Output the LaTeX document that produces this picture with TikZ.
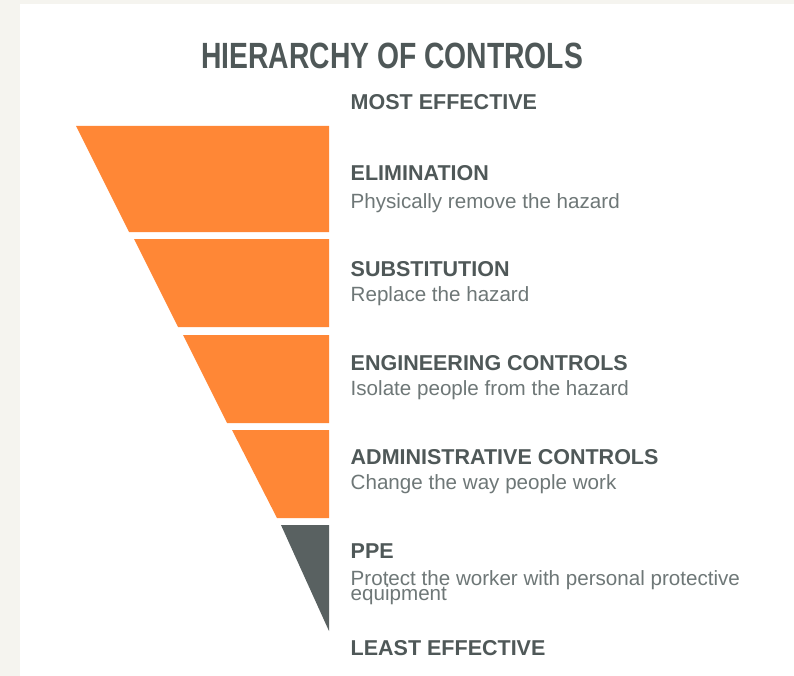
\documentclass[tikz,border=0pt]{standalone}
\usepackage{fontspec}
\setmainfont{Liberation Sans}
\newfontfamily\titlefont[FakeStretch=0.775]{Liberation Sans}
\definecolor{bgcol}{HTML}{F5F4EF}
\definecolor{orangecol}{HTML}{FF8736}
\definecolor{darkcol}{HTML}{596161}
\definecolor{headcol}{HTML}{4F5858}
\definecolor{desccol}{HTML}{6E7777}
\begin{document}
\begin{tikzpicture}[x=1pt,y=-1pt,
  titletext/.style={anchor=base west,inner sep=0pt,text=headcol,font=\titlefont\bfseries\fontsize{36.5}{40}\selectfont},
  headtext/.style={anchor=base west,inner sep=0pt,text=headcol,font=\bfseries\fontsize{21.5}{24}\selectfont},
  desctext/.style={anchor=base west,inner sep=0pt,text=desccol,font=\fontsize{20.6}{24}\selectfont},
  band/.style={fill=orangecol},
  ppeband/.style={fill=darkcol}]
\useasboundingbox (0,0) rectangle (794,676);
\fill[bgcol] (0,0) rectangle (794,676);
\fill[white] (20,4) rectangle (794,676);
% funnel
\fill[band] (76,126) -- (329,126) -- (329,232) -- (129,232) -- cycle;
\fill[band] (134,239) -- (329,239) -- (329,327) -- (178,327) -- cycle;
\fill[band] (183,335) -- (329,335) -- (329,423) -- (227,423) -- cycle;
\fill[band] (232,430) -- (329,430) -- (329,518) -- (277,518) -- cycle;
\fill[ppeband] (281,525) -- (329,525) -- (329,631) -- cycle;
% texts
\node[titletext] (title) at (201,69) {HIERARCHY OF CONTROLS};
\node[headtext] (most) at (350.5,110) {MOST EFFECTIVE};
\node[headtext] (elim) at (350.5,181) {ELIMINATION};
\node[desctext] (elimd) at (350.5,208) {Physically remove the hazard};
\node[headtext] (subst) at (350.5,276) {SUBSTITUTION};
\node[desctext] (substd) at (350.5,301) {Replace the hazard};
\node[headtext] (eng) at (350.5,370) {ENGINEERING CONTROLS};
\node[desctext] (engd) at (350.5,395) {Isolate people from the hazard};
\node[headtext] (admin) at (350.5,464) {ADMINISTRATIVE CONTROLS};
\node[desctext] (admind) at (350.5,489) {Change the way people work};
\node[headtext] (ppe) at (350.5,558) {PPE};
\node[desctext] (pped) at (350.5,585) {Protect the worker with personal protective};
\node[desctext] (pped2) at (350.5,600) {equipment};
\node[headtext] (least) at (350.5,655) {LEAST EFFECTIVE};
\end{tikzpicture}
\end{document}
